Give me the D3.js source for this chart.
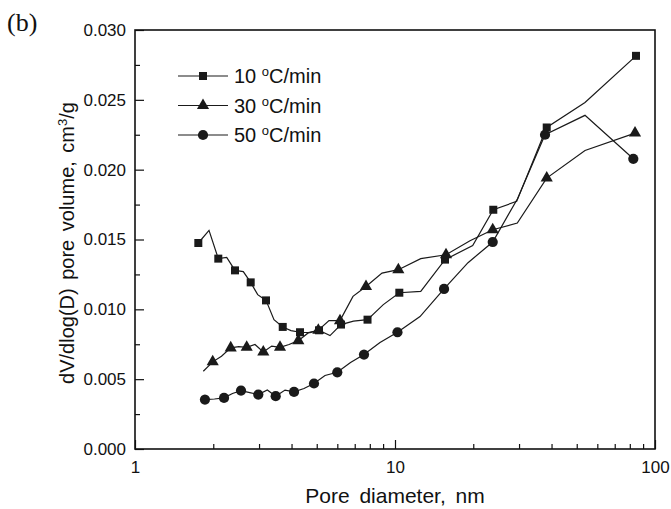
<!DOCTYPE html>
<html>
<head>
<meta charset="utf-8">
<script src="https://cdn.jsdelivr.net/npm/d3@7"></script>
<style>
    body { margin: 0; background: #fff; }
    svg text { font-family: "Liberation Sans", Arial, sans-serif; fill: #111; }
</style>
</head>
<body>
<div id="chart"></div>
<script>
(function(window, document, undefined) {

    //10 C/min (squares)
    var d10 = [1.752, 1.926, 2.091, 2.253, 2.424, 2.609, 2.786, 2.964, 3.191, 3.424, 3.700, 3.981, 4.312, 4.710, 5.102,
        5.623, 6.199, 6.924, 7.840, 9.016, 10.39, 12.56, 15.57, 19.90, 23.88, 29.38, 38.33, 53.80, 84.52];
    var v10 = [0.01475, 0.01565, 0.01363, 0.01372, 0.01279, 0.01270, 0.01193, 0.01105, 0.01064, 0.00926, 0.00874, 0.00848, 0.00836, 0.00833, 0.00850,
        0.00812, 0.00891, 0.00916, 0.00926, 0.01034, 0.01119, 0.01129, 0.01356, 0.01456, 0.01713, 0.01773, 0.02302, 0.02481, 0.02815];

    //30 C/min (triangles)
    var d30 = [1.831, 1.990, 2.151, 2.334, 2.505, 2.689, 2.894, 3.115, 3.356, 3.612, 3.912, 4.248, 4.648, 5.070,
        5.574, 6.144, 6.893, 7.735, 8.913, 10.30, 12.56, 15.71, 19.43, 23.76, 29.54, 38.33, 53.80, 83.78];
    var v30 = [0.00557, 0.00624, 0.00664, 0.00724, 0.00733, 0.00728, 0.00748, 0.00695, 0.00737, 0.00728, 0.00748, 0.00776, 0.00833, 0.00850,
        0.00919, 0.00919, 0.01093, 0.01164, 0.01259, 0.01284, 0.01363, 0.01391, 0.01491, 0.01570, 0.01618, 0.01940, 0.02137, 0.02262];

    //50 C/min (circles)
    var d50 = [1.858, 2.022, 2.200, 2.371, 2.557, 2.762, 2.980, 3.228, 3.477, 3.776, 4.089, 4.467, 4.880, 5.380,
        5.998, 6.745, 7.599, 8.756, 10.22, 12.48, 15.44, 19.09, 23.76, 29.59, 37.76, 53.80, 82.52];
    var v50 = [0.00354, 0.00358, 0.00366, 0.00397, 0.00418, 0.00404, 0.00390, 0.00422, 0.00378, 0.00422, 0.00409, 0.00433, 0.00469, 0.00526,
        0.00549, 0.00619, 0.00676, 0.00762, 0.00836, 0.00948, 0.01146, 0.01334, 0.01482, 0.01792, 0.02250, 0.02389, 0.02078];

    var legendRates = ["10", "30", "50"];
    var yTicks = [0, 0.005, 0.010, 0.015, 0.020, 0.025, 0.030];
    var xTicks = [1, 10, 100];

    var width = 671, height = 509;
    var margin = {left: 135, top: 30, right: 16, bottom: 60};

    var x = d3.scaleLog().domain([1, 100]).range([margin.left, width - margin.right]);
    var y = d3.scaleLinear().domain([0, 0.030]).range([height - margin.bottom, margin.top]);

    var svg = d3.select("#chart").append("svg")
        .attr("width", width)
        .attr("height", height);

    // markers drawn on every other point (first index = start)
    var series = [
        {d: d10, v: v10, shape: d3.symbolSquare, size: 64, start: 0},
        {d: d30, v: v30, shape: d3.symbolTriangle, size: 64, start: 1},
        {d: d50, v: v50, shape: d3.symbolCircle, size: 82, start: 0}
    ];

    var line = d3.line()
        .x(function(p) { return x(p[0]); })
        .y(function(p) { return y(p[1]); });

    series.forEach(function(s) {
        var pts = s.d.map(function(dd, i) { return [dd, s.v[i]]; });
        svg.append("path")
            .attr("d", line(pts))
            .attr("fill", "none")
            .attr("stroke", "#1a1a1a")
            .attr("stroke-width", 1.2);

        svg.append("g").selectAll("path")
            .data(pts.filter(function(p, i) { return i >= s.start && (i - s.start) % 2 === 0; }))
            .enter().append("path")
            .attr("d", d3.symbol().type(s.shape).size(s.size))
            .attr("transform", function(p) { return "translate(" + x(p[0]) + "," + y(p[1]) + ")"; })
            .attr("fill", "#1a1a1a");
    });

    //軸
    var yAxis = d3.axisLeft(y)
        .tickValues(d3.range(0, 0.0301, 0.0025))
        .tickSize(-8)
        .tickPadding(9)
        .tickFormat(function(t) {
            return yTicks.some(function(k) { return Math.abs(k - t) < 1e-6; }) ? d3.format(".3f")(t) : "";
        });

    var gy = svg.append("g")
        .attr("transform", "translate(" + margin.left + ",0)")
        .call(yAxis);
    gy.selectAll(".tick line").attr("x2", function(t) {
        return yTicks.some(function(k) { return Math.abs(k - t) < 1e-6; }) ? 9 : 5;
    });

    var minorX = [];
    [1, 10].forEach(function(dec) {
        for (var k = 2; k <= 9; k++) minorX.push(dec * k);
    });

    var xAxis = d3.axisBottom(x)
        .tickValues(xTicks.concat(minorX))
        .tickSize(-9)
        .tickPadding(9)
        .tickFormat(function(t) { return xTicks.indexOf(t) >= 0 ? String(t) : ""; });

    var gx = svg.append("g")
        .attr("transform", "translate(0," + (height - margin.bottom) + ")")
        .call(xAxis);
    gx.selectAll(".tick line").attr("y2", function(t) { return xTicks.indexOf(t) >= 0 ? -9 : -5; });

    svg.selectAll(".domain").remove();
    svg.selectAll(".tick line").attr("stroke", "#111").attr("stroke-width", 1.2);
    gy.selectAll(".tick text").style("font-size", "17px");
    gx.selectAll(".tick text").style("font-size", "17px").attr("dy", "0.9em");

    //外框
    svg.append("rect")
        .attr("x", margin.left)
        .attr("y", margin.top)
        .attr("width", x(100) - margin.left)
        .attr("height", y(0) - margin.top)
        .attr("fill", "none")
        .attr("stroke", "#111")
        .attr("stroke-width", 1.6);

    //標題
    svg.append("text")
        .attr("x", (x(1) + x(100)) / 2)
        .attr("y", 503)
        .attr("text-anchor", "middle")
        .style("font-size", "21px")
        .style("word-spacing", "4px")
        .text("Pore diameter, nm");

    var yt = svg.append("text")
        .attr("transform", "translate(74," + 243 + ") rotate(-90)")
        .attr("text-anchor", "middle")
        .style("font-size", "20px")
        .style("word-spacing", "3px");
    yt.append("tspan").text("dV/dlog(D) pore volume, cm");
    yt.append("tspan").attr("baseline-shift", "super").style("font-size", "13px").text("3");
    yt.append("tspan").text("/g");

    svg.append("text")
        .attr("x", 7)
        .attr("y", 31)
        .style("font-family", "'Liberation Serif', 'Times New Roman', serif")
        .style("font-size", "26px")
        .text("(b)");

    //圖例
    var legend = svg.append("g");
    series.forEach(function(s, i) {
        var ly = 76 + i * 29.5;
        legend.append("line")
            .attr("x1", 178).attr("x2", 228)
            .attr("y1", ly).attr("y2", ly)
            .attr("stroke", "#1a1a1a").attr("stroke-width", 1.2);
        legend.append("path")
            .attr("d", d3.symbol().type(s.shape).size(s.size))
            .attr("transform", "translate(203," + ly + ")")
            .attr("fill", "#1a1a1a");
        var t = legend.append("text")
            .attr("x", 234)
            .attr("y", ly + 7)
            .style("font-size", "20px");
        t.append("tspan").text(legendRates[i] + " ");
        t.append("tspan").attr("baseline-shift", "super").style("font-size", "13px").text("o");
        t.append("tspan").text("C/min");
    });

})(window, document);
</script>
</body>
</html>
